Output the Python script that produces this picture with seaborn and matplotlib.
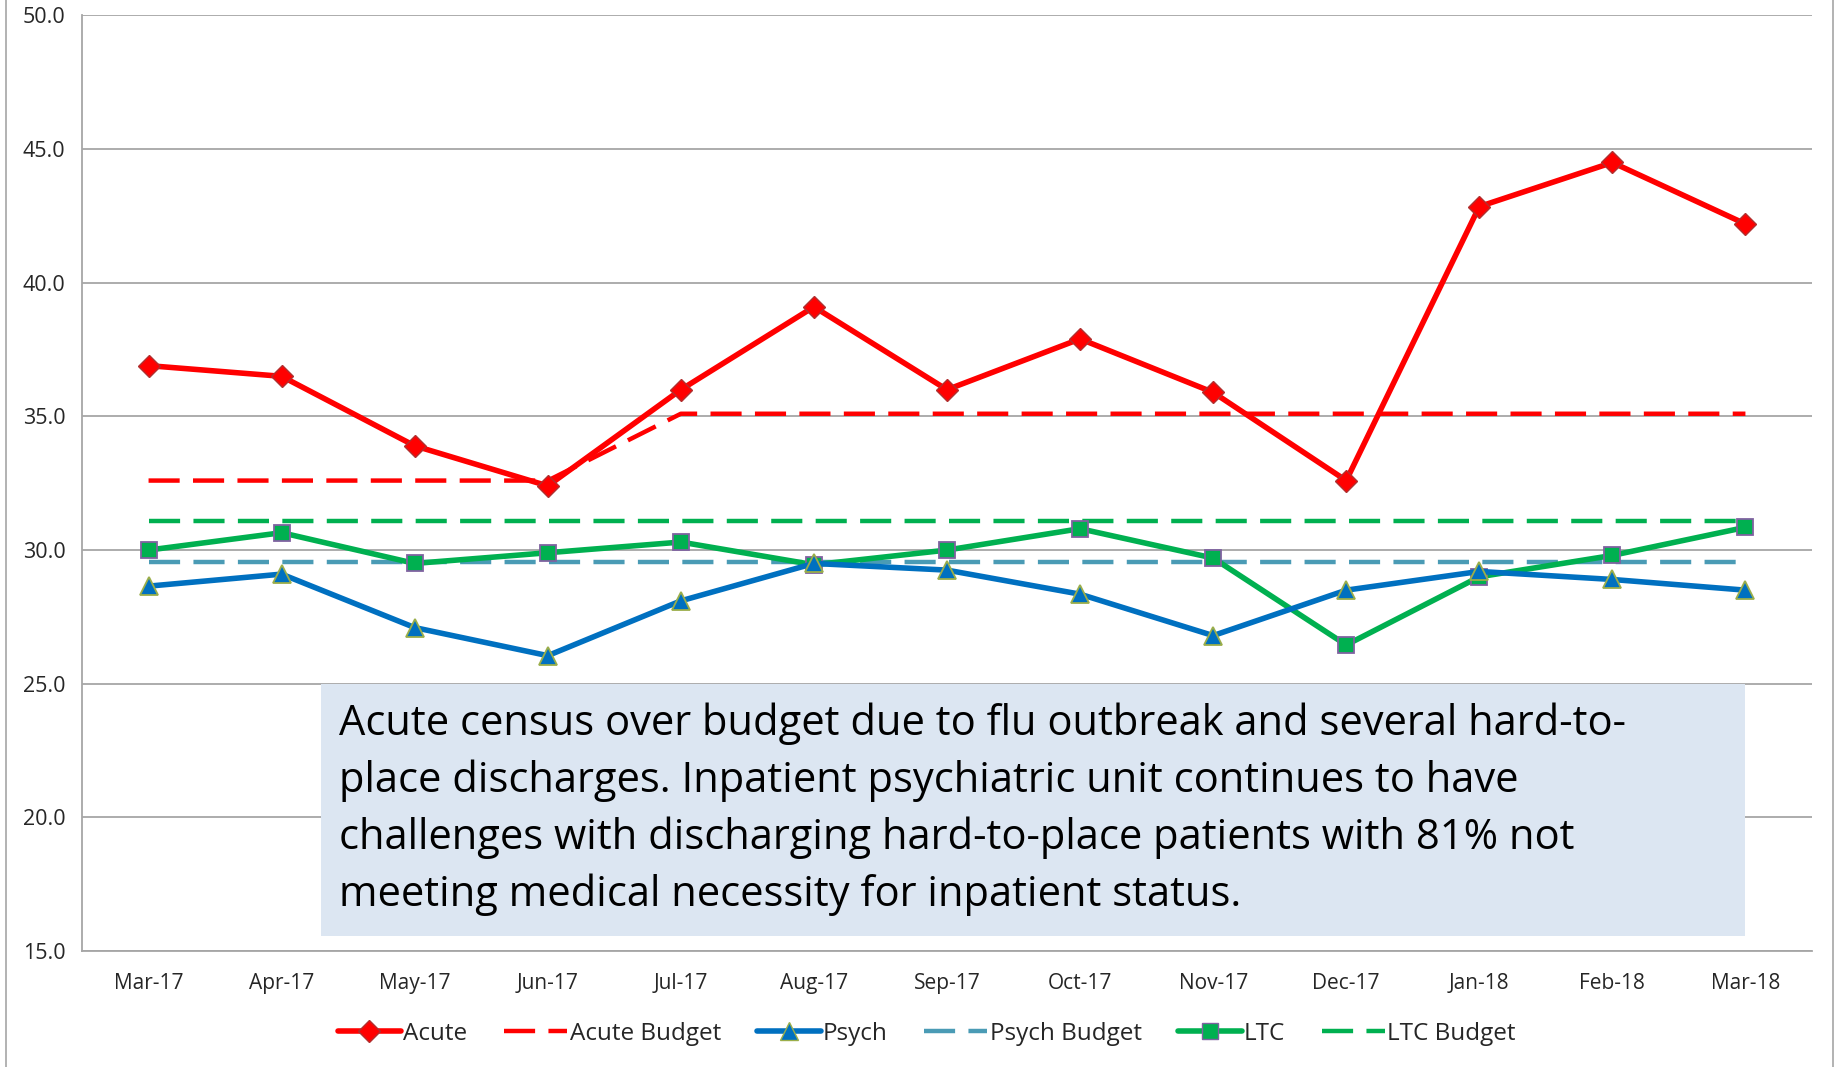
import numpy as np
import pandas as pd
import matplotlib
matplotlib.use("Agg")
import matplotlib.pyplot as plt
from matplotlib.lines import Line2D
from matplotlib.patches import Rectangle
import seaborn as sns

# -----------------------------
# DATA
# -----------------------------
months = ["Mar-17", "Apr-17", "May-17", "Jun-17", "Jul-17", "Aug-17", "Sep-17",
          "Oct-17", "Nov-17", "Dec-17", "Jan-18", "Feb-18", "Mar-18"]
acute = [36.9, 36.5, 33.9, 32.4, 36.0, 39.1, 36.0, 37.9, 35.9, 32.6, 42.85, 44.5, 42.2]
acute_budget = [32.6, 32.6, 32.6, 32.6, 35.1, 35.1, 35.1, 35.1, 35.1, 35.1, 35.1, 35.1, 35.1]
psych = [28.65, 29.1, 27.1, 26.05, 28.1, 29.5, 29.25, 28.35, 26.8, 28.5, 29.2, 28.9, 28.5]
psych_budget = [29.55] * 13
ltc = [30.0, 30.65, 29.5, 29.9, 30.3, 29.45, 30.0, 30.8, 29.7, 26.45, 29.0, 29.8, 30.85]
ltc_budget = [31.1] * 13

note = ("Acute census over budget due to flu outbreak and several hard-to-\n"
        "place discharges. Inpatient psychiatric unit continues to have\n"
        "challenges with discharging hard-to-place patients with 81% not\n"
        "meeting medical necessity for inpatient status.")

df = pd.DataFrame({"pos": np.arange(len(months)), "Acute": acute, "Acute Budget": acute_budget,
                   "Psych": psych, "Psych Budget": psych_budget, "LTC": ltc, "LTC Budget": ltc_budget})

# -----------------------------
# STYLE
# -----------------------------
sns.set_style("white")
plt.rcParams["font.family"] = ["Open Sans", "DejaVu Sans"]

RED = "#FF0000"
BLUE = "#0070C0"
TEAL = "#4A9BB5"
GREEN = "#00B050"

fig = plt.figure(figsize=(18.39, 10.67), dpi=100)
ax = fig.add_axes([0.0446, 0.1087, 0.9407, 0.8768])

# gridlines
for v in range(15, 55, 5):
    ax.axhline(v, color="#A6A6A6", lw=1.3, zorder=0)

dash = (7, 3)
sns.lineplot(data=df, x="pos", y="Acute Budget", ax=ax, color=RED, lw=3.2, zorder=2)
sns.lineplot(data=df, x="pos", y="LTC Budget", ax=ax, color=GREEN, lw=3.2, zorder=2)
sns.lineplot(data=df, x="pos", y="Psych Budget", ax=ax, color=TEAL, lw=3.2, zorder=2)
for ln in ax.get_lines()[-3:]:
    ln.set_dashes(dash)

sns.lineplot(data=df, x="pos", y="LTC", ax=ax, color=GREEN, lw=4, marker="s", markersize=11,
             markeredgecolor="#7F62A0", markeredgewidth=1.3, zorder=3)
sns.lineplot(data=df, x="pos", y="Psych", ax=ax, color=BLUE, lw=4, marker="^", markersize=13,
             markeredgecolor="#9BAE4A", markeredgewidth=1.3, zorder=4)
sns.lineplot(data=df, x="pos", y="Acute", ax=ax, color=RED, lw=4, marker="D", markersize=11,
             markeredgecolor="#B03030", markeredgewidth=1.0, zorder=5)

ax.set_xlim(-0.5, len(months) - 0.5)
ax.set_ylim(15, 50)
ax.set_xlabel("")
ax.set_ylabel("")

ax.set_yticks(range(15, 55, 5))
ax.set_yticklabels([f"{v:.1f}" for v in range(15, 55, 5)], fontsize=15.5)
ax.set_xticks(np.arange(len(months)))
ax.set_xticklabels(months, fontsize=15)
ax.set_xticks(np.arange(len(months) + 1) - 0.5, minor=True)
ax.tick_params(axis="x", which="major", length=0, pad=16)
ax.tick_params(axis="x", which="minor", length=8, color="#A6A6A6", width=1.2)
ax.tick_params(axis="y", length=8, color="#A6A6A6", width=1.2, pad=4)

for s in ["top", "right"]:
    ax.spines[s].set_visible(False)
for s in ["left", "bottom"]:
    ax.spines[s].set_color("#A6A6A6")
    ax.spines[s].set_linewidth(1.3)

# annotation box
ax.add_patch(Rectangle((1.295, 15.57), 10.7, 9.43, transform=ax.transData,
                       facecolor="#DCE6F2", edgecolor="none", zorder=6))
ax.text(1.43, 24.3, note, fontsize=30, va="top", ha="left", color="black",
        linespacing=1.45, zorder=7)

# legend
handles = [
    Line2D([], [], color=RED, lw=4, marker="D", markersize=11, markeredgecolor="#B03030"),
    Line2D([], [], color=RED, lw=3.2, dashes=dash),
    Line2D([], [], color=BLUE, lw=4, marker="^", markersize=13, markeredgecolor="#9BAE4A"),
    Line2D([], [], color=TEAL, lw=3.2, dashes=dash),
    Line2D([], [], color=GREEN, lw=4, marker="s", markersize=11, markeredgecolor="#7F62A0"),
    Line2D([], [], color=GREEN, lw=3.2, dashes=dash),
]
labels = ["Acute", "Acute Budget", "Psych", "Psych Budget", "LTC", "LTC Budget"]
fig.legend(handles, labels, loc="center", bbox_to_anchor=(0.504, 0.031), ncol=6, frameon=False,
           fontsize=17.5, handlelength=2.6, handletextpad=0.1, columnspacing=1.5)

# chart border
fig.add_artist(Line2D([0.003, 0.003], [0, 1], transform=fig.transFigure, color="#A6A6A6", lw=1.2))
fig.add_artist(Line2D([0.9967, 0.9967], [0, 1], transform=fig.transFigure, color="#A6A6A6", lw=1.2))

fig.savefig("out.png", dpi=100)
